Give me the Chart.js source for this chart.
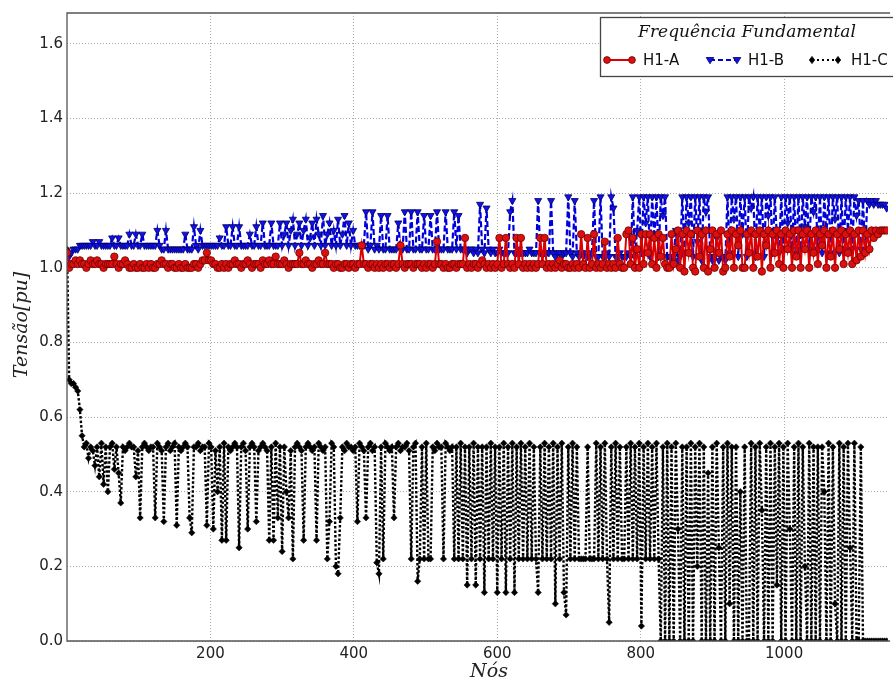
<!DOCTYPE html>
<html><head><meta charset="utf-8">
<script src="https://cdn.jsdelivr.net/npm/chart.js@4.4.1/dist/chart.umd.min.js"></script>
<style>html,body{margin:0;padding:0;background:#fff}#wrap{position:relative;width:893px;height:683px}</style>
</head><body><div id="wrap"><canvas id="c"></canvas></div>
<script>
// ---- data (voltage in hundredths of pu, one sample every NODE_STEP nodes) ----
const NODE_STEP = 3;
const xTickValues = [200, 400, 600, 800, 1000];
const yTickValues = [0, 0.2, 0.4, 0.6, 0.8, 1.0, 1.2, 1.4, 1.6];
const seriesNames = ['H1-A', 'H1-B', 'H1-C'];
const legendTitle = 'Frequência Fundamental';
const xTitle = 'Nós';
const yTitle = 'Tensão[pu]';

const h1A = [
104,100,101,101,102,101,102,101,101,100,101,102,101,101,102,101,101,100,101,101,
101,101,103,101,100,101,101,102,101,100,100,101,100,100,101,100,100,101,100,101,
100,100,101,101,102,101,101,100,101,101,100,100,101,100,100,101,100,100,100,101,
101,100,101,102,102,104,102,102,101,101,100,100,101,100,101,100,101,101,102,101,
101,100,101,101,102,101,100,101,101,101,100,102,101,101,102,101,101,103,101,101,
101,102,101,100,101,101,101,101,104,101,101,102,101,101,100,101,101,102,101,101,
104,101,101,101,100,101,101,100,100,101,101,100,101,101,100,101,101,106,101,101,
100,101,101,100,101,100,101,100,101,101,100,101,101,100,101,106,101,100,101,101,
101,100,101,101,101,100,101,100,101,101,100,101,107,101,101,100,101,100,100,101,
101,100,101,101,101,108,100,101,100,101,101,100,101,102,101,100,101,100,101,100,
101,108,100,101,108,101,100,101,100,108,101,108,100,101,100,101,100,101,100,101,
108,101,108,100,101,100,101,100,101,102,100,101,101,100,100,101,100,101,100,109,
101,100,108,100,101,109,100,101,100,101,107,100,101,100,101,100,108,101,100,100,
109,110,101,108,100,105,100,109,101,109,104,109,101,108,100,109,103,108,101,100,
100,109,101,105,110,100,109,99,110,104,109,100,99,110,103,109,100,110,99,105,
110,100,109,104,110,99,100,109,103,110,100,109,106,110,100,100,109,104,110,100,
109,103,110,99,109,106,110,100,109,104,110,101,109,100,110,105,109,100,110,103,
110,100,109,105,110,100,109,104,110,101,109,106,110,100,109,103,110,100,109,105,
110,101,109,104,110,101,109,102,110,103,110,104,109,105,110,108,110,109,110,110,
110,110];

const h1B = [
104,103,104,105,105,105,106,106,106,106,106,106,107,106,106,107,106,106,106,106,
106,108,106,106,108,106,106,106,106,109,106,106,109,106,106,109,106,106,106,106,
106,106,110,106,105,105,110,105,105,105,105,105,105,105,105,109,105,105,105,111,
106,105,110,106,106,106,106,106,106,106,106,108,106,106,111,106,106,111,106,106,
111,106,106,106,106,109,106,106,111,106,106,112,106,106,106,112,106,106,106,112,
106,109,112,106,110,113,106,109,112,106,110,113,106,108,112,106,113,109,106,114,
106,109,112,106,110,106,113,106,109,114,106,112,106,110,106,106,106,106,106,115,
105,106,115,105,106,105,114,105,105,114,105,105,105,105,112,105,105,115,105,105,
115,105,105,115,105,105,114,105,105,114,105,105,115,105,105,105,115,105,105,105,
115,105,114,105,105,105,104,105,105,104,105,104,117,105,104,116,105,104,105,104,
104,105,104,104,104,104,115,118,104,104,105,104,104,104,104,105,104,104,104,118,
104,104,104,104,104,118,104,103,104,104,103,104,104,119,104,103,118,104,103,104,
103,104,103,103,104,118,103,103,119,103,103,104,103,119,116,103,103,104,103,103,
103,104,103,119,103,110,119,104,119,112,119,103,119,108,119,103,119,114,119,103,
103,102,103,110,102,103,119,104,119,112,119,103,119,107,119,102,119,115,119,103,
102,103,108,102,103,103,102,119,104,119,113,119,103,119,109,119,103,119,116,119,
103,119,110,119,103,119,114,119,104,119,108,104,119,105,119,112,119,105,119,104,
119,105,119,111,119,105,119,115,119,105,119,104,119,109,119,104,119,113,119,104,
119,105,119,110,119,105,119,114,118,105,118,104,118,117,118,117,118,117,117,117,
117,116];

const h1C = [
105,70,69,69,68,67,62,55,52,53,49,52,51,47,52,44,53,42,52,40,
52,53,46,52,45,37,52,51,52,53,52,52,44,51,33,52,53,52,51,52,
52,33,53,52,51,32,52,53,51,52,53,31,52,51,52,53,52,33,29,52,
52,53,51,52,52,31,53,52,30,51,40,52,27,53,27,52,51,52,53,52,
25,52,53,51,30,52,53,52,32,51,52,53,52,51,27,52,27,53,33,52,
24,52,40,33,51,22,52,53,52,51,27,52,53,52,51,52,27,53,52,51,
52,22,32,53,52,20,18,33,52,51,53,52,52,51,52,32,53,52,51,33,
52,53,51,52,21,18,52,22,53,52,51,52,33,52,53,51,52,52,53,51,
22,52,53,16,22,52,22,53,22,22,52,51,53,52,52,22,53,52,51,52,
22,52,22,53,22,52,15,52,22,53,15,52,22,52,13,52,22,53,22,52,
13,52,22,53,13,52,22,53,13,52,22,53,22,52,22,53,22,52,22,13,
52,22,53,22,52,22,53,10,52,22,53,13,7,52,22,53,22,52,22,22,
22,22,52,22,22,22,53,22,52,22,53,22,5,52,22,53,22,52,22,22,
52,22,53,22,52,22,53,4,52,22,53,22,52,22,53,22,0,52,0,53,
0,52,0,53,30,0,52,0,52,0,53,0,52,20,53,0,52,0,45,0,
52,0,53,25,0,52,0,53,10,52,0,52,0,40,0,52,0,0,53,0,
52,0,53,35,0,52,0,53,0,52,15,53,0,52,0,53,30,0,52,0,
53,0,52,20,0,53,0,52,0,52,0,52,40,0,53,0,52,10,0,53,
0,52,0,53,25,0,53,0,0,52,0,0,0,0,0,0,0,0,0,0,
0,0];

function toPoints(vals) { return vals.map((v, i) => ({ x: i * NODE_STEP, y: v / 100 })); }

// ---- layout constants ----
const PLOT = { left: 67, top: 10, bottom: 641 };
const TICK_FONT = { family: 'DejaVu Sans', size: 15 };

const spines = {
  id: 'spines',
  afterDatasetsDraw(chart) {
    const a = chart.chartArea, ctx = chart.ctx;
    ctx.save();
    ctx.strokeStyle = '#555'; ctx.lineWidth = 1.3;
    ctx.beginPath();
    ctx.moveTo(a.right + 2, a.top); ctx.lineTo(a.left, a.top);
    ctx.lineTo(a.left, a.bottom); ctx.lineTo(a.right + 2, a.bottom);
    ctx.stroke();
    ctx.restore();
  }
};

function marker(ctx, type, x, y, fill, stroke) {
  ctx.save();
  ctx.fillStyle = fill; ctx.strokeStyle = stroke; ctx.lineWidth = 0.8; ctx.setLineDash([]);
  ctx.beginPath();
  if (type === 'circle') { ctx.arc(x, y, 3.4, 0, Math.PI * 2); }
  else if (type === 'tri') { ctx.moveTo(x - 3.8, y - 2.5); ctx.lineTo(x + 3.8, y - 2.5); ctx.lineTo(x, y + 3.8); ctx.closePath(); }
  else { ctx.moveTo(x, y - 3.6); ctx.lineTo(x + 2.7, y); ctx.lineTo(x, y + 3.6); ctx.lineTo(x - 2.7, y); ctx.closePath(); }
  ctx.fill(); ctx.stroke();
  ctx.restore();
}

const texts = {
  id: 'texts',
  afterDraw(chart) {
    const ctx = chart.ctx;
    ctx.save();
    ctx.fillStyle = '#222';
    ctx.font = 'italic 19px "DejaVu Serif"';
    ctx.textAlign = 'center'; ctx.textBaseline = 'middle';
    ctx.fillText(xTitle, 489, 672);
    ctx.save();
    ctx.translate(22, 325); ctx.rotate(-Math.PI / 2);
    ctx.fillText(yTitle, 0, 0);
    ctx.restore();
    // legend box
    ctx.fillStyle = '#fff';
    ctx.fillRect(600, 17, 300, 59);
    ctx.strokeStyle = '#444'; ctx.lineWidth = 1.3;
    ctx.strokeRect(600.5, 17.5, 300, 59);
    // legend title
    ctx.fillStyle = '#111';
    let fs = 17;
    ctx.font = 'italic ' + fs + 'px "DejaVu Serif"';
    const w = ctx.measureText(legendTitle).width;
    fs = fs * 218 / w;
    ctx.font = 'italic ' + fs.toFixed(2) + 'px "DejaVu Serif"';
    ctx.textAlign = 'center';
    ctx.fillText(legendTitle, 747, 33);
    // legend items
    const items = [
      { x1: 607, x2: 632, tx: 643, color: '#dd0000', fill: '#dd1010', edge: '#700000', dash: [], m: 'circle' },
      { x1: 710, x2: 737, tx: 748, color: '#0000dd', fill: '#1010ee', edge: '#000060', dash: [5, 3], m: 'tri' },
      { x1: 812, x2: 838, tx: 851, color: '#000', fill: '#000', edge: '#000', dash: [2, 3], m: 'dia' }
    ];
    const iy = 60;
    items.forEach((it, i) => {
      ctx.save();
      ctx.strokeStyle = it.color; ctx.lineWidth = 2; ctx.setLineDash(it.dash);
      ctx.beginPath(); ctx.moveTo(it.x1, iy); ctx.lineTo(it.x2, iy); ctx.stroke();
      ctx.restore();
      marker(ctx, it.m, it.x1, iy, it.fill, it.edge);
      marker(ctx, it.m, it.x2, iy, it.fill, it.edge);
      ctx.fillStyle = '#111';
      ctx.font = '15px "DejaVu Sans"';
      ctx.textAlign = 'left'; ctx.textBaseline = 'middle';
      ctx.fillText(seriesNames[i], it.tx, iy + 1);
    });
    ctx.restore();
  }
};

new Chart(document.getElementById('c'), {
  type: 'line',
  data: {
    datasets: [
      {
        label: seriesNames[0], data: toPoints(h1A),
        borderColor: '#dd0000', borderWidth: 2,
        pointStyle: 'circle', pointRadius: 3.7,
        pointBackgroundColor: '#dd1010', pointBorderColor: '#700000', pointBorderWidth: 0.8
      },
      {
        label: seriesNames[1], data: toPoints(h1B),
        borderColor: '#0000dd', borderWidth: 2.2, borderDash: [6, 3],
        pointStyle: 'triangle', pointRotation: 180, pointRadius: 4.1,
        pointBackgroundColor: '#1010ee', pointBorderColor: '#000060', pointBorderWidth: 0.8
      },
      {
        label: seriesNames[2], data: toPoints(h1C),
        borderColor: '#000', borderWidth: 2.4, borderDash: [2.5, 2],
        pointStyle: 'rectRot', pointRadius: 3.2,
        pointBackgroundColor: '#000', pointBorderColor: '#000', pointBorderWidth: 0.5
      }
    ]
  },
  options: {
    responsive: true, maintainAspectRatio: false, animation: false,
    parsing: false, normalized: true,
    layout: { padding: { top: PLOT.top, left: 0, right: 0, bottom: 0 } },
    elements: { line: { tension: 0 } },
    plugins: { legend: { display: false }, tooltip: { enabled: false } },
    scales: {
      x: {
        type: 'linear', min: 0, max: 1145,
        afterFit(s) { s.height = 683 - PLOT.bottom; },
        afterBuildTicks(s) { s.ticks = xTickValues.map(v => ({ value: v })); },
        ticks: { font: TICK_FONT, color: '#222', padding: 4, maxRotation: 0, autoSkip: false, callback: v => String(v) },
        grid: { color: '#aaaaaa', lineWidth: 1, drawTicks: false },
        border: { display: false, dash: [1, 2] }
      },
      y: {
        type: 'linear', min: 0, max: 1.6827,
        afterFit(s) { s.width = PLOT.left; },
        afterBuildTicks(s) { s.ticks = yTickValues.map(v => ({ value: v })); },
        ticks: { font: TICK_FONT, color: '#222', padding: 4, callback: v => Number(v).toFixed(1) },
        grid: { color: '#aaaaaa', lineWidth: 1, drawTicks: false },
        border: { display: false, dash: [1, 2] }
      }
    }
  },
  plugins: [spines, texts]
});
</script>
</body></html>
